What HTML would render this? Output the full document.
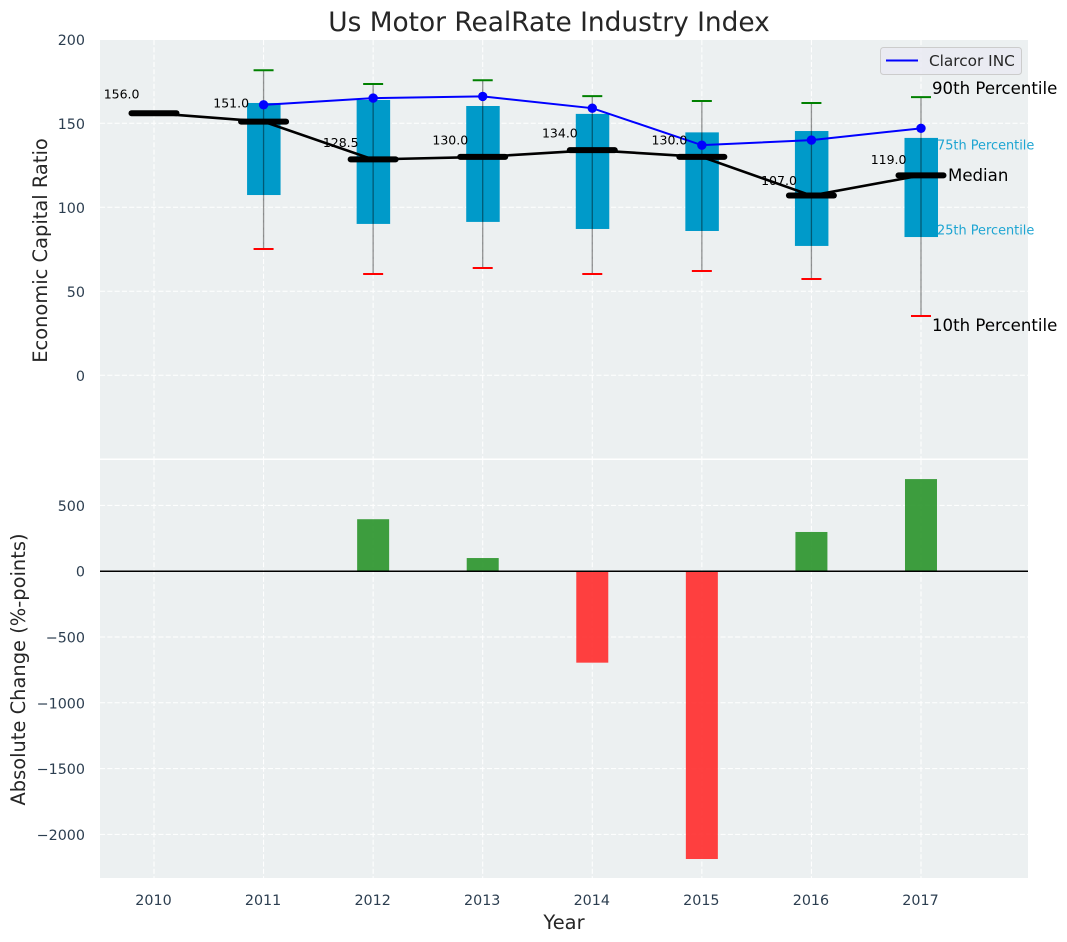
<!DOCTYPE html>
<html lang="en">
<head>
<meta charset="utf-8">
<title>Us Motor RealRate Industry Index</title>
<style>
html,body{margin:0;padding:0;background:#fff;}
svg{display:block;font-family:"DejaVu Sans","Liberation Sans",sans-serif;}
</style>
</head>
<body>
<svg id="chart" xmlns="http://www.w3.org/2000/svg" width="1067" height="942" viewBox="0 0 1067 942">
  <rect x="100" y="40" width="928" height="418.5" fill="#ecf0f1"/>
  <rect x="100" y="460" width="928" height="418" fill="#ecf0f1"/>
  <g id="grid"></g>
  <g id="bars"></g>
  <g id="boxes"></g>
  <g id="lines"></g>
  <g id="ticks" font-size="14.3" fill="#2c3e50"></g>
  <g id="vals" font-size="12.5" fill="#000"></g>
  <text x="549" y="31" font-size="26.4" fill="#262626" text-anchor="middle">Us Motor RealRate Industry Index</text>
  <text transform="translate(47,250.5) rotate(-90)" font-size="19.45" fill="#262626" text-anchor="middle">Economic Capital Ratio</text>
  <text transform="translate(25,669.5) rotate(-90)" font-size="19.45" fill="#262626" text-anchor="middle">Absolute Change (%-points)</text>
  <text x="564" y="929" font-size="19.45" fill="#262626" text-anchor="middle">Year</text>
  <g>
    <rect x="880.5" y="47.5" width="141" height="27" rx="3" fill="#eaeaf2" fill-opacity="0.8" stroke="#cccccc"/>
    <line x1="886" y1="60.5" x2="918" y2="60.5" stroke="#0000ff" stroke-width="2"/>
    <text x="929" y="66" font-size="15.3" fill="#262626">Clarcor INC</text>
  </g>
  <text x="932" y="94" font-size="16.6" fill="#000">90th Percentile</text>
  <text x="937" y="149.5" font-size="12.9" fill="#1ea5d2">75th Percentile</text>
  <text x="948" y="181" font-size="16.6" fill="#000">Median</text>
  <text x="937" y="234.5" font-size="12.9" fill="#1ea5d2">25th Percentile</text>
  <text x="932" y="331" font-size="16.6" fill="#000">10th Percentile</text>
</svg>
<script>
const years = [2010, 2011, 2012, 2013, 2014, 2015, 2016, 2017];
const median = [156, 151, 128.5, 130, 134, 130, 107, 119];
const medianLabels = ["156.0", "151.0", "128.5", "130.0", "134.0", "130.0", "107.0", "119.0"];
const p90 = [null, 181.6, 173.4, 175.6, 166.2, 163.3, 162.1, 165.6];
const p75 = [null, 162.1, 163.9, 160.3, 155.6, 144.6, 145.4, 141.3];
const p25 = [null, 107.3, 90.1, 91.3, 87.1, 85.9, 77, 82.3];
const p10 = [null, 75.2, 60.3, 63.9, 60.3, 62.1, 57.3, 35.3];
const company = [null, 161, 165, 166, 159, 137, 140, 147];
const change = [null, null, 395, 100, -695, -2187, 298, 700];
const topTicks = [0, 50, 100, 150, 200];
const bottomTicks = [500, 0, -500, -1000, -1500, -2000];

const NS = 'http://www.w3.org/2000/svg';
const x = v => 154 + (v - 2010) * 109.57;
const yT = v => 375.3 - v * 1.68;
const yB = v => 571.2 - v * 0.1316;
const gridG = document.getElementById('grid');
const barsG = document.getElementById('bars');
const boxesG = document.getElementById('boxes');
const linesG = document.getElementById('lines');
const ticksG = document.getElementById('ticks');
const valsG = document.getElementById('vals');

function shape(parent, tag, attrs, txt) {
  const s = document.createElementNS(NS, tag);
  for (const k in attrs) s.setAttribute(k, attrs[k]);
  if (txt !== undefined) s.textContent = txt;
  parent.appendChild(s);
  return s;
}
const gridStyle = {stroke: '#ffffff', 'stroke-width': 1, 'stroke-dasharray': '5.1 2.2'};

years.forEach(yr => {
  const px = x(yr);
  let el = shape(gridG, 'line', {x1: px, x2: px, y1: 40, y2: 458.5, ...gridStyle});
  
  
  el = shape(gridG, 'line', {x1: px, x2: px, y1: 460, y2: 878, ...gridStyle});
  
  
  el = shape(ticksG, 'text', {x: px - 0.5, y: 905, 'text-anchor': 'middle'}, String(yr));
  
  
});
topTicks.forEach(t => {
  let el = shape(gridG, 'line', {x1: 100, x2: 1028, y1: yT(t), y2: yT(t), ...gridStyle});
  
  
  el = shape(ticksG, 'text', {x: 85, y: yT(t) + 5.5, 'text-anchor': 'end'}, String(t));
  
  
});
bottomTicks.forEach(t => {
  let el = shape(gridG, 'line', {x1: 100, x2: 1028, y1: yB(t), y2: yB(t), ...gridStyle});
  
  
  el = shape(ticksG, 'text', {x: 85, y: yB(t) + 5.5, 'text-anchor': 'end'}, String(t).replace('-', '\u2212'));
  
  
});

change.forEach((v, i) => {
  if (v === null) return;
  const top = Math.min(yB(v), yB(0));
  const el = shape(barsG, 'rect', {x: x(years[i]) - 16, y: top, width: 32, height: Math.abs(yB(v) - yB(0)), fill: v >= 0 ? '#2e962f' : '#ff3030', 'fill-opacity': 0.92});
  
  
});
const zero = shape(barsG, 'line', {x1: 100, x2: 1028, y1: yB(0), y2: yB(0), stroke: '#000', 'stroke-width': 1.5});



years.forEach((yr, i) => {
  if (p75[i] === null) return;
  const px = x(yr);
  let el = shape(boxesG, 'rect', {x: px - 16.5, y: yT(p75[i]), width: 33.5, height: yT(p25[i]) - yT(p75[i]), fill: '#009ac9'});
  
  
  el = shape(boxesG, 'line', {x1: px, x2: px, y1: yT(p90[i]), y2: yT(p10[i]), stroke: '#000', 'stroke-opacity': 0.42, 'stroke-width': 1.3});
  
  
  el = shape(boxesG, 'line', {x1: px - 10, x2: px + 10, y1: yT(p90[i]), y2: yT(p90[i]), stroke: '#008000', 'stroke-width': 2});
  
  
  el = shape(boxesG, 'line', {x1: px - 10, x2: px + 10, y1: yT(p10[i]), y2: yT(p10[i]), stroke: '#ff0000', 'stroke-width': 2});
  
  
});

const medianPts = years.map((yr, i) => x(yr) + ',' + yT(median[i])).join(' ');
const medianLine = shape(linesG, 'polyline', {points: medianPts, fill: 'none', stroke: '#000', 'stroke-width': 2.6});



years.forEach((yr, i) => {
  const px = x(yr);
  let el = shape(linesG, 'line', {x1: px - 22.5, x2: px + 22.5, y1: yT(median[i]), y2: yT(median[i]), stroke: '#000', 'stroke-width': 6, 'stroke-linecap': 'round'});
  
  
  el = shape(valsG, 'text', {x: px - 14.5, y: yT(median[i] * 1.052) - 1, 'text-anchor': 'end'}, medianLabels[i]);
  
  
});

const companyPts = years.map((yr, i) => company[i] === null ? null : x(yr) + ',' + yT(company[i])).filter(Boolean).join(' ');
const companyLine = shape(linesG, 'polyline', {points: companyPts, fill: 'none', stroke: '#0000ff', 'stroke-width': 2});


company.forEach((v, i) => {
  if (v === null) return;
  const el = shape(linesG, 'circle', {cx: x(years[i]), cy: yT(v), r: 4.7, fill: '#0000ff'});
  
  
});
</script>
</body>
</html>
